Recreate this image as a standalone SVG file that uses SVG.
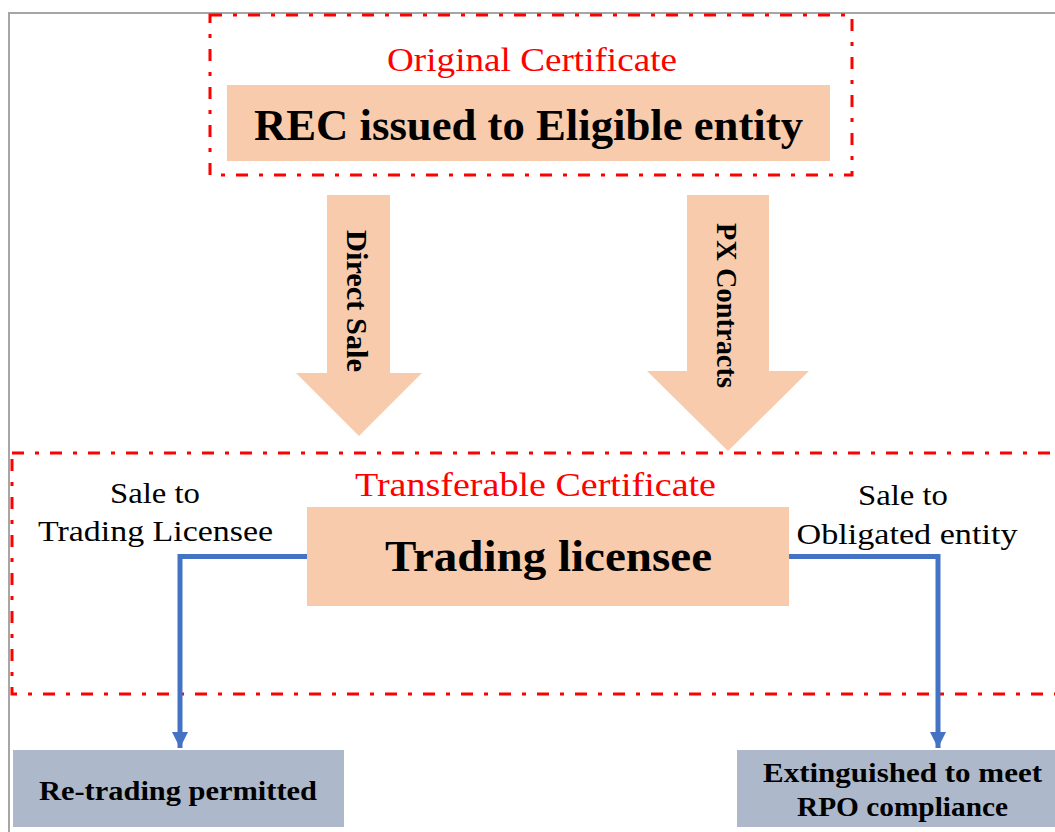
<svg xmlns="http://www.w3.org/2000/svg" width="1055" height="832" viewBox="0 0 1055 832">
  <style>
    .frame { fill: none; stroke: #a6a6a6; stroke-width: 2; }
    .group-box { fill: none; stroke: #ff0000; stroke-width: 3; stroke-dasharray: 12 11 4 11; }
    .peach { fill: #f8cbad; }
    .slate { fill: #adb9ca; }
    text { font-family: "Liberation Serif", "DejaVu Serif", serif; text-anchor: middle; fill: #000; }
    .title { fill: #ff0000; font-size: 33px; }
    .big { font-weight: bold; font-size: 44px; }
    .flow { font-weight: bold; font-size: 30px; }
    .label { font-size: 29px; }
    .result { font-weight: bold; font-size: 28px; }
    .link { fill: none; stroke: #4472c4; stroke-width: 5; }
  </style>
  <defs>
    <marker id="blue-head" viewBox="0 0 10 10" refX="10" refY="5" markerWidth="3.2" markerHeight="3.2" orient="auto" markerUnits="strokeWidth">
      <path d="M0,0 L10,5 L0,10 Z" fill="#4472c4"/>
    </marker>
  </defs>

  <rect width="1055" height="832" fill="#ffffff"/>
  <!-- page frame -->
  <path class="frame" d="M9,832 V13 H1055"/>

  <!-- original certificate group -->
  <g id="original-certificate">
    <rect class="group-box" x="210" y="15" width="642" height="160"/>
    <text class="title" x="532" y="71" textLength="290" lengthAdjust="spacingAndGlyphs">Original Certificate</text>
    <rect class="peach" x="227" y="85" width="603" height="76"/>
    <text class="big" x="528.5" y="140" textLength="549" lengthAdjust="spacingAndGlyphs">REC issued to Eligible entity</text>
  </g>

  <!-- block arrows -->
  <g id="direct-sale">
    <path class="peach" d="M327,195 H390 V373 H422 L359,436 L296,373 H327 Z"/>
    <text class="flow" transform="translate(347,301) rotate(90)" textLength="142" lengthAdjust="spacingAndGlyphs">Direct Sale</text>
  </g>
  <g id="px-contracts">
    <path class="peach" d="M687,195 H769 V371 H809 L728,451 L647,371 H687 Z"/>
    <text class="flow" transform="translate(717,305.5) rotate(90)" textLength="165" lengthAdjust="spacingAndGlyphs">PX Contracts</text>
  </g>

  <!-- transferable certificate group -->
  <g id="transferable-certificate">
    <rect class="group-box" x="12" y="453" width="1060" height="241"/>
    <text class="title" x="535.5" y="496" textLength="361" lengthAdjust="spacingAndGlyphs">Transferable Certificate</text>
  </g>

  <g id="trading-licensee">
    <rect class="peach" x="307" y="507" width="482" height="99"/>
    <text class="big" x="548.5" y="571" textLength="327" lengthAdjust="spacingAndGlyphs">Trading licensee</text>
  </g>

  <!-- connectors -->
  <g id="connectors">
    <path class="link" d="M307,556.5 H180 V748" marker-end="url(#blue-head)"/>
    <path class="link" d="M789,556.5 H938 V748" marker-end="url(#blue-head)"/>
    <text class="label" x="155" y="503" textLength="90" lengthAdjust="spacingAndGlyphs">Sale to</text>
    <text class="label" x="155.5" y="541" textLength="235" lengthAdjust="spacingAndGlyphs">Trading Licensee</text>
    <text class="label" x="903" y="505" textLength="90" lengthAdjust="spacingAndGlyphs">Sale to</text>
    <text class="label" x="907" y="544" textLength="221" lengthAdjust="spacingAndGlyphs">Obligated entity</text>
  </g>

  <g id="re-trading">
    <rect class="slate" x="13" y="750" width="331" height="77"/>
    <text class="result" x="178" y="800" textLength="278" lengthAdjust="spacingAndGlyphs">Re-trading permitted</text>
  </g>

  <g id="extinguished">
    <rect class="slate" x="737" y="750" width="330" height="77"/>
    <text class="result" x="902.5" y="782" textLength="279" lengthAdjust="spacingAndGlyphs">Extinguished to meet</text>
    <text class="result" x="902.5" y="816" textLength="211" lengthAdjust="spacingAndGlyphs">RPO compliance</text>
  </g>
</svg>
